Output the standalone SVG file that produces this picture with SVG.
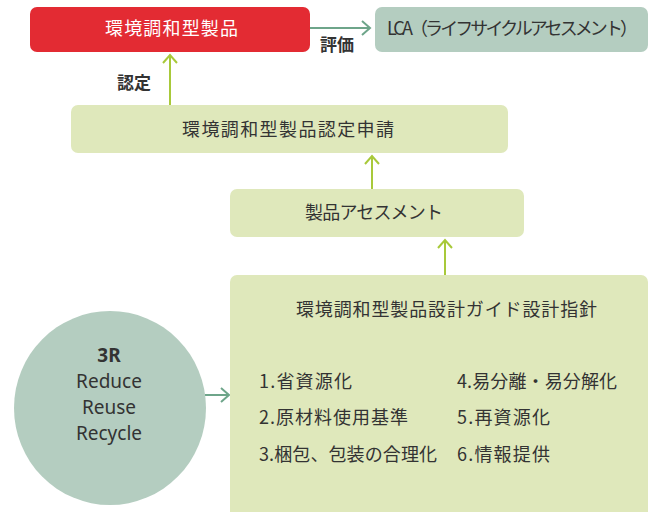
<svg xmlns="http://www.w3.org/2000/svg" width="656" height="512" viewBox="0 0 656 512">
<style>
.jp{font-family:"Noto Sans CJK JP","Noto Sans",sans-serif;fill:#333;}
.lbl{font-size:18px;}
.item{font-size:18px;}
.bold{font-weight:bold;font-size:17px;}
.en{font-family:"Noto Sans","Open Sans",sans-serif;fill:#333;font-size:19px;text-anchor:middle;}
.green{fill:#dfe8bb;}
.yg{stroke:#a8c93a;stroke-width:2;fill:none;}
.gg{stroke:#6ea58a;stroke-width:2;fill:none;}
</style>
<rect width="656" height="512" fill="#fff"/>
<g id="connectors">
  <line class="yg" x1="170" y1="105" x2="170" y2="55"/>
  <polyline class="yg" points="163,63 170,55 177,63"/>
  <line class="yg" x1="372" y1="189" x2="372" y2="156"/>
  <polyline class="yg" points="365,164 372,156 379,164"/>
  <line class="yg" x1="445" y1="275" x2="445" y2="240"/>
  <polyline class="yg" points="438,248 445,240 452,248"/>
  <line class="gg" x1="310" y1="28" x2="370" y2="28"/>
  <polyline class="gg" points="362,21 370,28 362,35"/>
  <line class="gg" x1="205" y1="395" x2="229" y2="395"/>
  <polyline class="gg" points="221,388 229,395 221,402"/>
  <text class="jp bold" x="320" y="51">評価</text>
  <text class="jp bold" x="117" y="89">認定</text>
</g>
<g id="product">
  <rect x="30" y="7" width="280" height="45" rx="7" fill="#e32b33"/>
  <text class="jp lbl" x="105" y="35" textLength="133" style="fill:#fff">環境調和型製品</text>
</g>
<g id="lca">
  <rect x="375" y="7" width="273" height="45" rx="7" fill="#b4cdc0"/>
  <text class="jp lbl" x="387" y="35" textLength="251">LCA（ライフサイクルアセスメント）</text>
</g>
<g id="application">
  <rect class="green" x="71" y="105" width="437" height="48" rx="7"/>
  <text class="jp lbl" x="182" y="136" textLength="212">環境調和型製品認定申請</text>
</g>
<g id="assessment">
  <rect class="green" x="230" y="189" width="294" height="48" rx="7"/>
  <text class="jp lbl" x="305" y="219" textLength="138">製品アセスメント</text>
</g>
<g id="guide">
  <rect class="green" x="230" y="275" width="418" height="250" rx="7"/>
  <text class="jp lbl" x="296" y="316" textLength="301">環境調和型製品設計ガイド設計指針</text>
  <text class="jp item" x="259" y="388" textLength="93">1.省資源化</text>
  <text class="jp item" x="259" y="424" textLength="149">2.原材料使用基準</text>
  <text class="jp item" x="259" y="461" textLength="178">3.梱包、包装の合理化</text>
  <text class="jp item" x="457" y="388" textLength="160">4.易分離・易分解化</text>
  <text class="jp item" x="457" y="424" textLength="93">5.再資源化</text>
  <text class="jp item" x="457" y="461" textLength="93">6.情報提供</text>
</g>
<g id="threeR">
  <ellipse cx="110" cy="408" rx="96" ry="97" fill="#b4cdc0"/>
  <text class="en" x="109" y="362" font-weight="bold">3R</text>
  <text class="en" x="109" y="388">Reduce</text>
  <text class="en" x="109" y="414">Reuse</text>
  <text class="en" x="109" y="440">Recycle</text>
</g>
</svg>
